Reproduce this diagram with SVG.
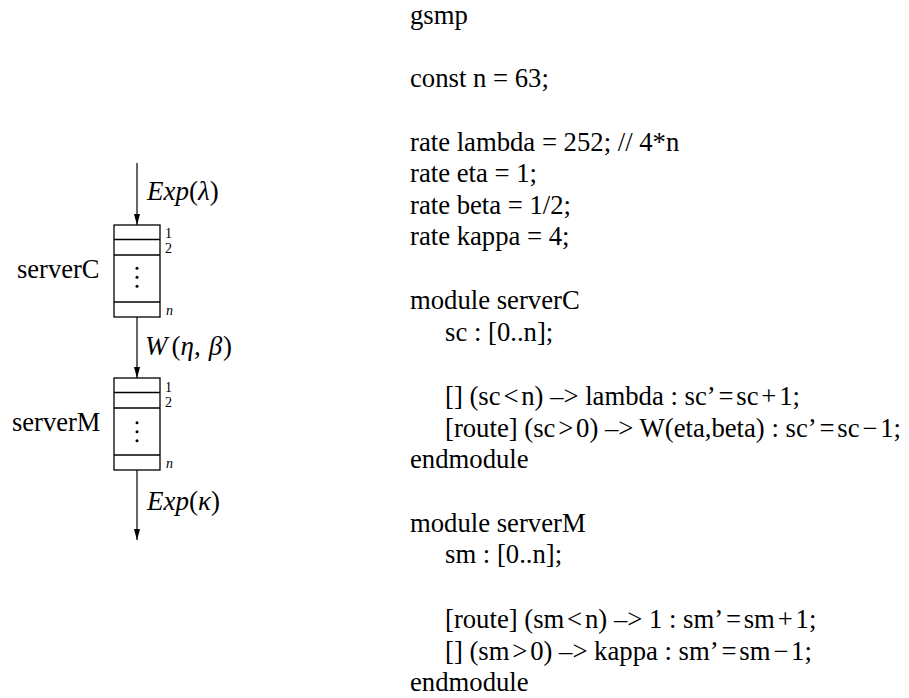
<svg xmlns="http://www.w3.org/2000/svg" width="909" height="698" viewBox="0 0 909 698">
<style>
.box{fill:none;stroke:#000;stroke-width:1.3}
.ln{fill:none;stroke:#000;stroke-width:1.2}
.lbl{font-family:"Liberation Serif",serif;font-size:26.5px;fill:#000}
.code{font-family:"Liberation Serif",serif;font-size:26.7px;fill:#000}
.math{font-family:"Liberation Serif",serif;font-size:27px;fill:#000}
.it{font-style:italic}
.sm{font-family:"Liberation Serif",serif;font-size:14px;fill:#000}
</style>
<defs>
<marker id="ah" markerWidth="11" markerHeight="20" refX="20" refY="5.5" orient="auto" markerUnits="userSpaceOnUse" viewBox="0 0 20 11">
<path d="M0,0 L20,5.5 L0,11 Z" fill="#000"/>
</marker>
</defs>
<rect width="909" height="698" fill="#fff"/>
<g id="connectors">
<line class="ln" x1="137" y1="163" x2="137" y2="225" marker-end="url(#ah)"/>
<line class="ln" x1="137" y1="317" x2="137" y2="378" marker-end="url(#ah)"/>
<line class="ln" x1="137" y1="470" x2="137" y2="540" marker-end="url(#ah)"/>
<text class="math" x="147" y="200"><tspan class="it">Exp</tspan>(<tspan class="it">λ</tspan>)</text>
<text class="math" x="145" y="355"><tspan class="it">W</tspan><tspan dx="4">(</tspan><tspan class="it">η</tspan>,<tspan dx="8" class="it">β</tspan><tspan dx="1">)</tspan></text>
<text class="math" x="147" y="510"><tspan class="it">Exp</tspan>(<tspan class="it">κ</tspan>)</text>
</g>
<g id="serverC">
<rect class="box" x="114" y="225" width="46" height="92"/>
<line class="box" x1="114" y1="239.5" x2="160" y2="239.5"/>
<line class="box" x1="114" y1="255" x2="160" y2="255"/>
<line class="box" x1="114" y1="302" x2="160" y2="302"/>
<circle cx="137" cy="268.3" r="1.5"/>
<circle cx="137" cy="277.3" r="1.5"/>
<circle cx="137" cy="286.3" r="1.5"/>
<text class="sm" x="165" y="238">1</text>
<text class="sm" x="165" y="253.3">2</text>
<text class="sm it" x="166" y="315">n</text>
<text class="lbl" x="17" y="278">serverC</text>
</g>
<g id="serverM">
<rect class="box" x="114" y="378" width="46" height="92"/>
<line class="box" x1="114" y1="392.5" x2="160" y2="392.5"/>
<line class="box" x1="114" y1="408" x2="160" y2="408"/>
<line class="box" x1="114" y1="455" x2="160" y2="455"/>
<circle cx="137" cy="422.7" r="1.5"/>
<circle cx="137" cy="431.7" r="1.5"/>
<circle cx="137" cy="440.7" r="1.5"/>
<text class="sm" x="165" y="391.7">1</text>
<text class="sm" x="165" y="406.7">2</text>
<text class="sm it" x="166" y="468">n</text>
<text class="lbl" x="12" y="431">serverM</text>
</g>
<g id="code" class="code">
<text x="410" y="24">gsmp</text>
<text x="410" y="87">const n = 63;</text>
<text x="410" y="150.5">rate lambda = 252; // 4*n</text>
<text x="410" y="182">rate eta = 1;</text>
<text x="410" y="213.5">rate beta = 1/2;</text>
<text x="410" y="245">rate kappa = 4;</text>
<text x="410" y="309">module serverC</text>
<text x="445" y="340.5">sc : [0..n];</text>
<text x="445" y="405">[] (sc<tspan dx="2.8">&lt;</tspan><tspan dx="2.8">n)</tspan> –&gt; lambda : sc’<tspan dx="2.8">=</tspan><tspan dx="2.8">sc</tspan><tspan dx="2.8">+</tspan><tspan dx="2.8">1;</tspan></text>
<text x="445" y="436.5">[route] (sc<tspan dx="2.8">&gt;</tspan><tspan dx="2.8">0)</tspan> –&gt; W(eta,beta) : sc’<tspan dx="2.8">=</tspan><tspan dx="2.8">sc</tspan><tspan dx="2.8">−</tspan><tspan dx="2.8">1;</tspan></text>
<text x="410" y="468">endmodule</text>
<text x="410" y="531.5">module serverM</text>
<text x="445" y="563">sm : [0..n];</text>
<text x="445" y="628">[route] (sm<tspan dx="2.8">&lt;</tspan><tspan dx="2.8">n)</tspan> –&gt; 1 : sm’<tspan dx="2.8">=</tspan><tspan dx="2.8">sm</tspan><tspan dx="2.8">+</tspan><tspan dx="2.8">1;</tspan></text>
<text x="445" y="659.5">[] (sm<tspan dx="2.8">&gt;</tspan><tspan dx="2.8">0)</tspan> –&gt; kappa : sm’<tspan dx="2.8">=</tspan><tspan dx="2.8">sm</tspan><tspan dx="2.8">−</tspan><tspan dx="2.8">1;</tspan></text>
<text x="410" y="691">endmodule</text>
</g>
</svg>
